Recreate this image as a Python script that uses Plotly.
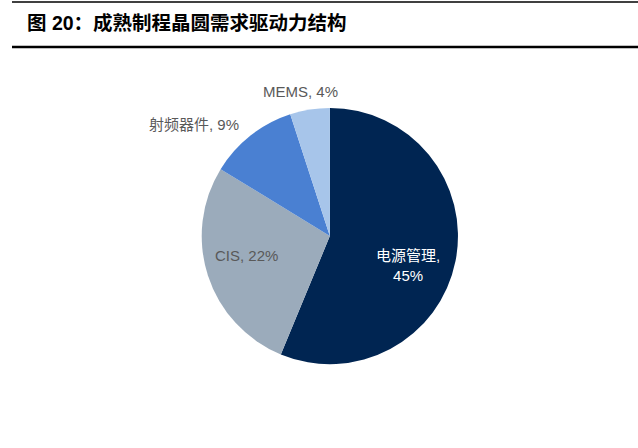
import plotly.graph_objects as go

categories = ["电源管理", "CIS", "射频器件", "MEMS"]
values = [45, 22, 9, 4]
colors = ["#002552", "#9BABBB", "#4A80D2", "#A7C5EA"]
label_breaks = [",<br>", ", ", ", ", ", "]
label_colors = ["#FFFFFF", "#595959", "#595959", "#595959"]
# label centres in pixels (x, y from top)
label_pos = [(408, 265), (246, 255), (194, 124), (300, 91)]

W, H = 638, 448
FONT = "Liberation Sans, Noto Sans CJK SC"

fig = go.Figure()
fig.add_trace(go.Pie(
    labels=categories,
    values=values,
    textinfo="none",
    marker=dict(colors=colors, line=dict(width=0)),
    sort=False,
    direction="clockwise",
    rotation=0,
    showlegend=False,
    hoverinfo="label+value",
    domain=dict(x=[0.316, 0.718], y=[0.187, 0.759]),
))

annotations = [dict(
    text="<b>图 20：成熟制程晶圆需求驱动力结构</b>",
    x=25 / W, y=1 - 23 / H, xref="paper", yref="paper",
    xanchor="left", yanchor="middle", showarrow=False,
    font=dict(family=FONT, size=19.5, color="#000000"),
)]
for cat, val, brk, col, (px, py) in zip(categories, values, label_breaks, label_colors, label_pos):
    annotations.append(dict(
        text=f"{cat}{brk}{val}%",
        x=px / W, y=1 - py / H, xref="paper", yref="paper",
        xanchor="center", yanchor="middle", showarrow=False, align="center",
        font=dict(family=FONT, size=15, color=col),
    ))

fig.update_layout(
    width=W, height=H,
    margin=dict(l=0, r=0, t=0, b=0),
    paper_bgcolor="white",
    plot_bgcolor="white",
    annotations=annotations,
    shapes=[
        dict(type="line", xref="paper", yref="paper", x0=12 / W, x1=1, y0=1 - 2 / H, y1=1 - 2 / H,
             line=dict(color="#000000", width=1.5)),
        dict(type="line", xref="paper", yref="paper", x0=12 / W, x1=1, y0=1 - 47 / H, y1=1 - 47 / H,
             line=dict(color="#000000", width=2.5)),
    ],
)

fig.write_html(
    "out.html",
    config={"displayModeBar": False},
    post_script="document.body.style.margin='0';document.body.style.overflow='hidden';",
)
